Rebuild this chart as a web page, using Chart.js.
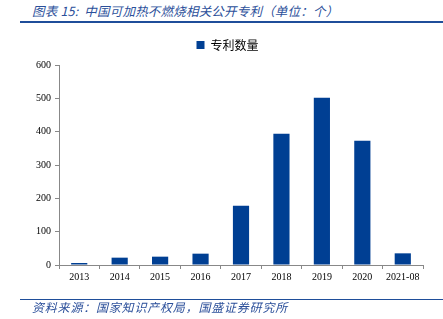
<!DOCTYPE html>
<html>
<head>
<meta charset="utf-8">
<script src="https://cdn.jsdelivr.net/npm/chart.js@4/dist/chart.umd.min.js"></script>
<style>
  html, body { margin: 0; padding: 0; background: #fff; }
  #wrap { position: relative; width: 443px; height: 319px; overflow: hidden; }
  #title {
    position: absolute; left: 32px; top: 1px;
    font-family: "Noto Sans CJK SC", sans-serif; font-style: italic;
    font-size: 12.5px; letter-spacing: 0.2px; color: #2b4f9a; white-space: nowrap;
  }
  #topLine { position: absolute; left: 20px; top: 21px; width: 423px; height: 2px; background: #1f4e9a; }
  #bottomLine { position: absolute; left: 20px; top: 299px; width: 423px; height: 1px; background: #1f4e9a; }
  #source {
    position: absolute; left: 32px; top: 298px;
    font-family: "Noto Sans CJK SC", sans-serif; font-style: italic;
    font-size: 12px; letter-spacing: 0.8px; color: #2b4f9a; white-space: nowrap;
  }
  canvas { position: absolute; left: 0; top: 0; }
</style>
</head>
<body>
<div id="wrap">
  <div id="title">图表 15:&nbsp; 中国可加热不燃烧相关公开专利（单位：个）</div>
  <div id="topLine"></div>
  <canvas id="chart" width="443" height="319"></canvas>
  <div id="bottomLine"></div>
  <div id="source">资料来源：国家知识产权局，国盛证券研究所</div>
</div>
<script>
// === Daten ===
const categories = ["2013", "2014", "2015", "2016", "2017", "2018", "2019", "2020", "2021-08"];
const patentCounts = [6, 22, 25, 34, 178, 394, 502, 373, 35];
const yTicks = [0, 100, 200, 300, 400, 500, 600];
const seriesLabel = "专利数量";

const ctx = document.getElementById("chart").getContext("2d");

// etwas mehr Abstand unter der Legende
const legendMargin = {
  id: "legendMargin",
  beforeInit(chart) {
    const origFit = chart.legend.fit;
    chart.legend.fit = function () {
      origFit.bind(chart.legend)();
      this.height += 4;
    };
  },
};

new Chart(ctx, {
  type: "bar",
  data: {
    labels: categories,
    datasets: [
      {
        label: seriesLabel,
        data: patentCounts,
        backgroundColor: "#003f93",
        borderWidth: 0,
        barPercentage: 0.4,
        categoryPercentage: 1.0,
      },
    ],
  },
  options: {
    responsive: false,
    animation: false,
    layout: { padding: { left: 32, right: 20, top: 29, bottom: 34 } },
    plugins: {
      legend: {
        display: true,
        labels: {
          boxWidth: 8,
          boxHeight: 8,
          color: "#000",
          font: { family: "'Noto Sans CJK SC', sans-serif", size: 12 },
        },
      },
      tooltip: { enabled: false },
    },
    scales: {
      x: {
        grid: { display: true, drawOnChartArea: false, drawTicks: true, tickLength: 4, color: "#888", offset: true },
        border: { color: "#888" },
        ticks: { color: "#000", font: { family: "'Liberation Serif', serif", size: 10 }, maxRotation: 0, padding: 2 },
      },
      y: {
        min: 0,
        max: 600,
        afterBuildTicks: (axis) => { axis.ticks = yTicks.map((v) => ({ value: v })); },
        grid: { display: true, drawOnChartArea: false, drawTicks: true, tickLength: 4, color: "#888" },
        border: { color: "#888" },
        ticks: { color: "#000", font: { family: "'Liberation Serif', serif", size: 10 }, padding: 4 },
      },
    },
  },
  plugins: [legendMargin],
});
</script>
</body>
</html>
